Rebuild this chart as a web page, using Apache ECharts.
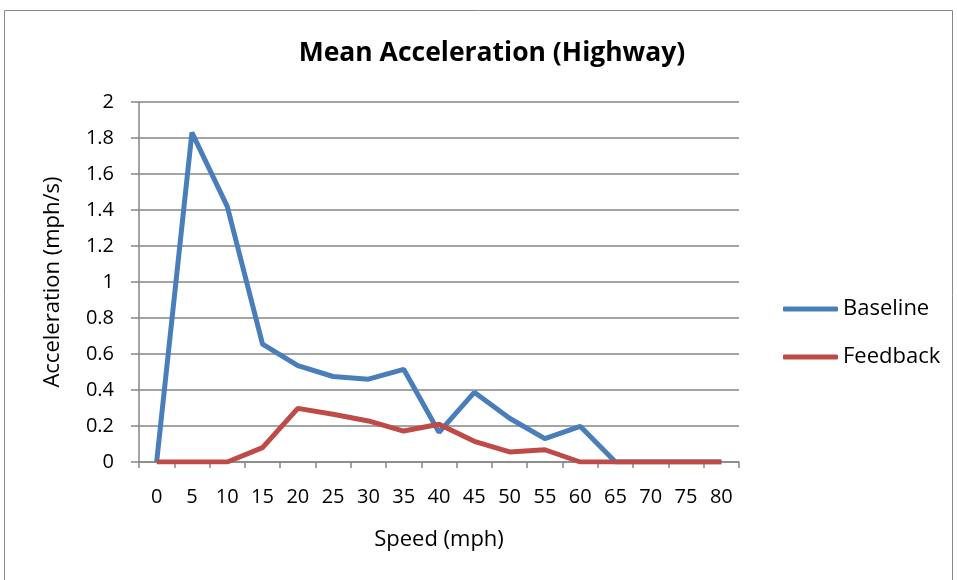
<!DOCTYPE html>
<html><head><meta charset="utf-8">
<script src="https://cdn.jsdelivr.net/npm/echarts@6/dist/echarts.min.js"></script>
<style>html,body{margin:0;padding:0;background:#fff}#c{width:957px;height:580px}</style>
</head><body><div id="c"></div>
<script>
var categories = ['0','5','10','15','20','25','30','35','40','45','50','55','60','65','70','75','80'];
var baseline = [0,1.83,1.42,0.655,0.535,0.475,0.46,0.515,0.165,0.387,0.243,0.13,0.198,0,0,0,0];
var feedback = [0,0,0,0.08,0.298,0.265,0.228,0.172,0.21,0.115,0.056,0.068,0,0,0,0,0];
var yTicks = [0,0.2,0.4,0.6,0.8,1,1.2,1.4,1.6,1.8,2];
var FONT = '"Open Sans", sans-serif';
var chart = echarts.init(document.getElementById('c'));
chart.setOption({
  backgroundColor:'#fff',
  animation:false,
  graphic:[{type:'rect',shape:{x:4.5,y:10.5,width:948,height:600},style:{fill:'none',stroke:'#888',lineWidth:1}}],
  title:{text:'Mean Acceleration (Highway)',left:487,top:35,textAlign:'center',
    textStyle:{fontFamily:FONT,fontSize:26.5,fontWeight:'bold',color:'#000'}},
  legend:{orient:'vertical',left:778,top:293,itemWidth:55,itemHeight:5,itemGap:26,icon:'roundRect',
    textStyle:{fontFamily:FONT,fontSize:22,color:'#000'},data:['Baseline','Feedback']},
  grid:{left:139,right:218,top:102,bottom:118,containLabel:false},
  xAxis:{type:'category',data:categories,boundaryGap:true,
    name:'Speed (mph)',nameLocation:'middle',nameGap:67,
    nameTextStyle:{fontFamily:FONT,fontSize:22,color:'#000'},
    axisLine:{lineStyle:{color:'#868686',width:1.5}},
    axisTick:{show:true,length:6,lineStyle:{color:'#868686',width:1.5},alignWithLabel:false},
    axisLabel:{fontFamily:FONT,fontSize:20,color:'#000',margin:25}},
  yAxis:{type:'value',min:0,max:2,interval:0.2,
    name:'Acceleration (mph/s)',nameLocation:'middle',nameGap:75,
    nameTextStyle:{fontFamily:FONT,fontSize:22,color:'#000'},
    axisLine:{show:true,lineStyle:{color:'#868686',width:1.5}},
    axisTick:{show:true,length:8,lineStyle:{color:'#868686',width:1.5}},
    splitLine:{lineStyle:{color:'#868686',width:1.5}},
    axisLabel:{fontFamily:FONT,fontSize:20,color:'#000',margin:25,
      formatter:function(v){var s=yTicks.indexOf(v)>=0?String(+v.toFixed(1)):'';return s;}}},
  series:[
    {name:'Baseline',type:'line',data:baseline,symbol:'none',lineStyle:{color:'#4A7EBB',width:5},itemStyle:{color:'#4A7EBB'}},
    {name:'Feedback',type:'line',data:feedback,symbol:'none',lineStyle:{color:'#BE4B48',width:5},itemStyle:{color:'#BE4B48'}}
  ]
});
</script></body></html>
